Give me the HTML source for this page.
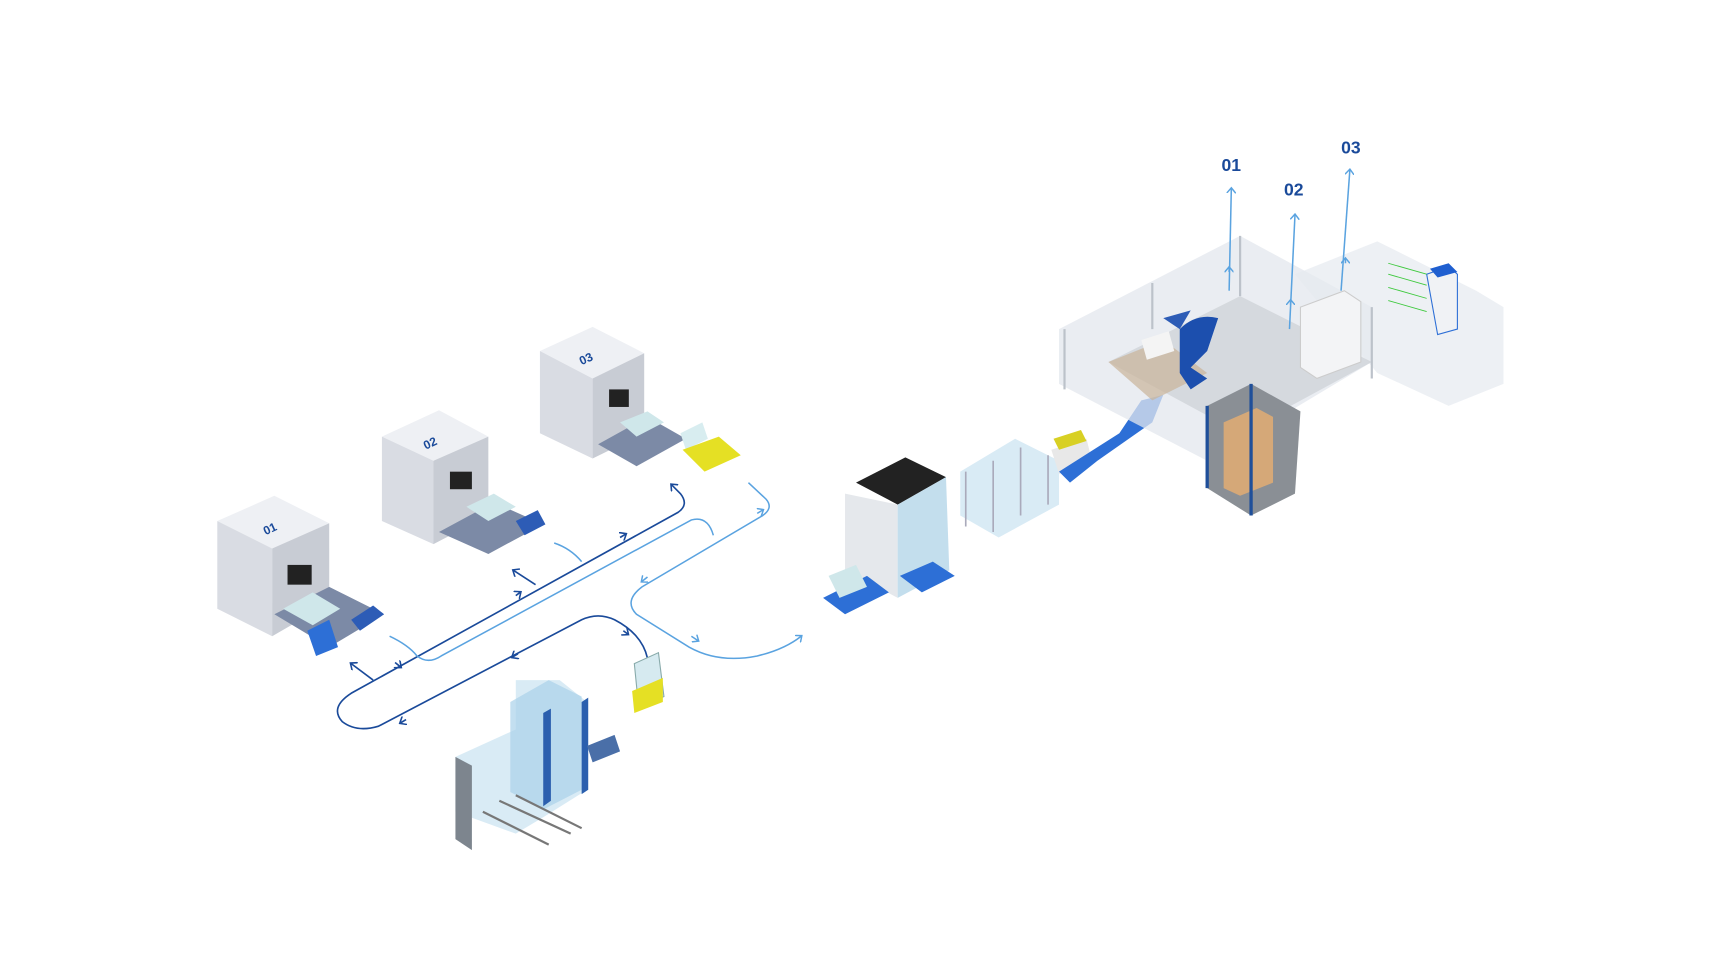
<!DOCTYPE html>
<html><head><meta charset="utf-8"><style>
html,body{margin:0;padding:0;background:#fff;width:1712px;height:962px;overflow:hidden}
svg{display:block}
text{font-family:"Liberation Sans",sans-serif;font-weight:bold}
</style></head><body>
<svg width="1712" height="962" viewBox="0 0 1560 877" preserveAspectRatio="none" xmlns="http://www.w3.org/2000/svg">
<defs>
<marker id="ad" viewBox="0 0 10 10" refX="5" refY="5" markerWidth="6" markerHeight="6" orient="auto-start-reverse"><path d="M0,0 L6,5 L0,10" fill="none" stroke="#1a4a9a" stroke-width="1.6"/></marker>
<marker id="al" viewBox="0 0 10 10" refX="5" refY="5" markerWidth="6" markerHeight="6" orient="auto-start-reverse"><path d="M0,0 L6,5 L0,10" fill="none" stroke="#5aa3e0" stroke-width="1.6"/></marker>
</defs>
<!-- cubes -->
<g>
<polygon points="198,475 250,452 300,477 248,500" fill="#eef0f4"/>
<polygon points="198,475 248,500 248,580 198,555" fill="#d9dce3"/>
<polygon points="248,500 300,477 300,550 248,580" fill="#c8ccd4"/>
<text x="242" y="488" font-size="11" fill="#1a4a9a" transform="rotate(-25 242 488)">01</text>
<rect x="262" y="515" width="22" height="18" fill="#222"/>
<polygon points="250,560 300,535 350,560 300,590" fill="#7c8aa6"/>
<polygon points="258,555 285,540 310,555 285,570" fill="#cfe7ea"/>
<polygon points="280,575 300,565 308,590 288,598" fill="#2d6fd6"/>
<polygon points="320,565 340,552 350,560 328,575" fill="#2d5cb6"/>

<polygon points="348,398 400,374 445,398 395,420" fill="#eef0f4"/>
<polygon points="348,398 395,420 395,496 348,475" fill="#d9dce3"/>
<polygon points="395,420 445,398 445,470 395,496" fill="#c8ccd4"/>
<text x="388" y="410" font-size="11" fill="#1a4a9a" transform="rotate(-25 388 410)">02</text>
<rect x="410" y="430" width="20" height="16" fill="#222"/>
<polygon points="400,485 450,458 495,478 445,505" fill="#7c8aa6"/>
<polygon points="425,462 450,450 470,462 445,475" fill="#cfe7ea"/>
<polygon points="470,475 490,465 497,478 478,488" fill="#2d5cb6"/>

<polygon points="492,320 540,298 587,322 540,345" fill="#eef0f4"/>
<polygon points="492,320 540,345 540,418 492,395" fill="#d9dce3"/>
<polygon points="540,345 587,322 587,395 540,418" fill="#c8ccd4"/>
<text x="530" y="333" font-size="11" fill="#1a4a9a" transform="rotate(-25 530 333)">03</text>
<rect x="555" y="355" width="18" height="16" fill="#222"/>
<polygon points="545,405 590,380 625,400 580,425" fill="#7c8aa6"/>
<polygon points="565,385 590,375 605,385 580,398" fill="#cfe7ea"/>
<polygon points="620,395 640,385 645,400 625,410" fill="#d8edf0"/>
<polygon points="622,410 655,398 675,415 642,430" fill="#e5e024"/>
</g>
<!-- flow lines dark -->
<g fill="none" stroke="#1a4a9a" stroke-width="1.5">
<path d="M612,442 L620,450 Q628,460 618,467 L320,632 Q300,645 312,658 Q325,668 345,662 L530,565 Q545,558 560,565 Q585,578 590,600" marker-start="url(#ad)"/>
<path d="M320,605 L340,620" marker-start="url(#ad)"/>
<path d="M468,520 L488,533" marker-start="url(#ad)"/>
<path d="M360,604 L365,608" marker-end="url(#ad)"/>
<path d="M470,543 L474,540" marker-end="url(#ad)"/>
<path d="M565,490 L570,487" marker-end="url(#ad)"/>
<path d="M472,596 L467,599" marker-end="url(#ad)"/>
<path d="M370,656 L365,659" marker-end="url(#ad)"/>
<path d="M568,575 L572,578" marker-end="url(#ad)"/>
</g>
<!-- flow lines light -->
<g fill="none" stroke="#5aa3e0" stroke-width="1.4">
<path d="M355,580 Q372,588 380,598 Q390,606 402,598 L630,474 Q645,470 650,488"/>
<path d="M505,495 Q520,500 530,512"/>
<path d="M682,440 L698,455 Q705,463 695,470 L585,535 Q568,548 580,560 L628,590 Q655,605 690,598 Q715,592 730,580" marker-end="url(#al)"/>
<path d="M590,526 L585,530" marker-end="url(#al)"/>
<path d="M630,580 L636,584" marker-end="url(#al)"/>
<path d="M690,468 L695,465" marker-end="url(#al)"/>
</g>
<!-- yellow cart -->
<polygon points="578,605 600,595 605,635 582,645" fill="#d6eaf0" stroke="#8aa" stroke-width="1"/>
<polygon points="576,630 604,618 604,640 578,650" fill="#e5e024"/>
<!-- bottom machine -->
<g>
<polygon points="415,690 470,665 470,620 510,620 535,640 535,720 495,745 470,760 415,740" fill="#cfe6f2" opacity="0.8"/>
<polygon points="465,640 500,620 530,635 530,720 495,738 465,722" fill="#a9d2ea" opacity="0.7"/>
<polygon points="415,690 430,698 430,775 415,765" fill="#7d858e"/>
<polygon points="495,650 502,646 502,730 495,735" fill="#2b5fae"/>
<polygon points="530,640 536,636 536,720 530,724" fill="#2b5fae"/>
<polygon points="535,680 560,670 565,685 540,695" fill="#4a6fa8"/>
<path d="M440,740 L500,770 M455,730 L520,760 M470,725 L530,755" stroke="#777" stroke-width="2"/>
</g>
<!-- middle machines -->
<g>
<polygon points="780,440 825,417 862,435 818,460" fill="#222"/>
<polygon points="770,450 818,460 818,545 770,520" fill="#e5e8ec"/>
<polygon points="818,460 862,435 865,520 818,545" fill="#b8d8ea" opacity="0.85"/>
<polygon points="750,545 790,525 810,540 770,560" fill="#2d6fd6"/>
<polygon points="755,525 780,515 790,535 765,545" fill="#cfe7ea"/>
<polygon points="820,525 850,512 870,525 840,540" fill="#2d6fd6"/>
<polygon points="875,430 925,400 965,420 965,460 910,490 875,470" fill="#cfe6f2" opacity="0.8"/>
<path d="M880,430 V480 M905,420 V485 M930,408 V470 M955,415 V460" stroke="#aab" stroke-width="1.5"/>
<polygon points="958,410 990,400 995,420 965,432" fill="#e8e8e8"/>
<polygon points="960,400 985,392 990,402 965,410" fill="#d8d024"/>
<path d="M965,430 L1020,395 L1040,365 L1060,360 L1050,385 L1000,420 L975,440 Z" fill="#2d6fd6"/>
</g>
<!-- right enclosure -->
<g>
<polygon points="965,300 1130,215 1250,280 1250,330 1100,420 965,350" fill="#e3e7ee" opacity="0.75"/>
<polygon points="1180,250 1255,220 1345,265 1370,280 1370,350 1320,370 1255,340" fill="#e6eaf0" opacity="0.7"/>
<polygon points="1010,330 1130,270 1250,330 1130,395" fill="#cfd3d8" opacity="0.8"/>
<polygon points="1010,330 1060,310 1100,340 1050,365" fill="#c9b39a" opacity="0.7"/>
<polygon points="1185,280 1225,265 1240,275 1240,330 1200,345 1185,335" fill="#f3f4f6" stroke="#ccc"/>
<path d="M1075,300 Q1090,285 1110,290 L1100,320 L1085,335 L1100,345 L1085,355 L1075,340 Z" fill="#1c4fae"/>
<polygon points="1060,290 1085,283 1075,300" fill="#2d5cb6"/>
<polygon points="1040,310 1065,302 1070,320 1045,328" fill="#f4f4f4"/>
<polygon points="1100,370 1140,350 1185,375 1180,450 1140,470 1100,445" fill="#8a8f95"/>
<polygon points="1115,385 1145,372 1160,380 1160,440 1130,452 1115,445" fill="#d5a878"/>
<path d="M1100,370 V445 M1140,350 V470" stroke="#1f4f9a" stroke-width="3"/>
<polygon points="1300,250 1320,243 1328,250 1328,300 1310,305" fill="#f0f2f5" stroke="#2d6fd6"/>
<polygon points="1303,245 1320,240 1328,248 1310,253" fill="#1f5fd0"/>
<path d="M1265,240 L1300,250 M1265,250 L1300,260 M1265,262 L1300,272 M1265,274 L1300,284" stroke="#3ec93e" stroke-width="0.8"/>
<path d="M970,300 V355 M1050,258 V300 M1130,215 V270 M1250,280 V345" stroke="#bcc2ca" stroke-width="2"/>
</g>
<!-- top arrows -->
<g fill="none" stroke="#5aa3e0" stroke-width="1.4">
<path d="M1120,265 L1122,172" marker-end="url(#al)"/>
<path d="M1175,300 L1180,196" marker-end="url(#al)"/>
<path d="M1222,265 L1230,155" marker-end="url(#al)"/>
<path d="M1120,248 L1120,244" marker-end="url(#al)"/>
<path d="M1176,278 L1176,274" marker-end="url(#al)"/>
<path d="M1226,240 L1226,236" marker-end="url(#al)"/>
</g>
<text x="1113" y="156" font-size="16" fill="#1a4a9a">01</text>
<text x="1170" y="178" font-size="16" fill="#1a4a9a">02</text>
<text x="1222" y="140" font-size="16" fill="#1a4a9a">03</text>
</svg>
</body></html>
